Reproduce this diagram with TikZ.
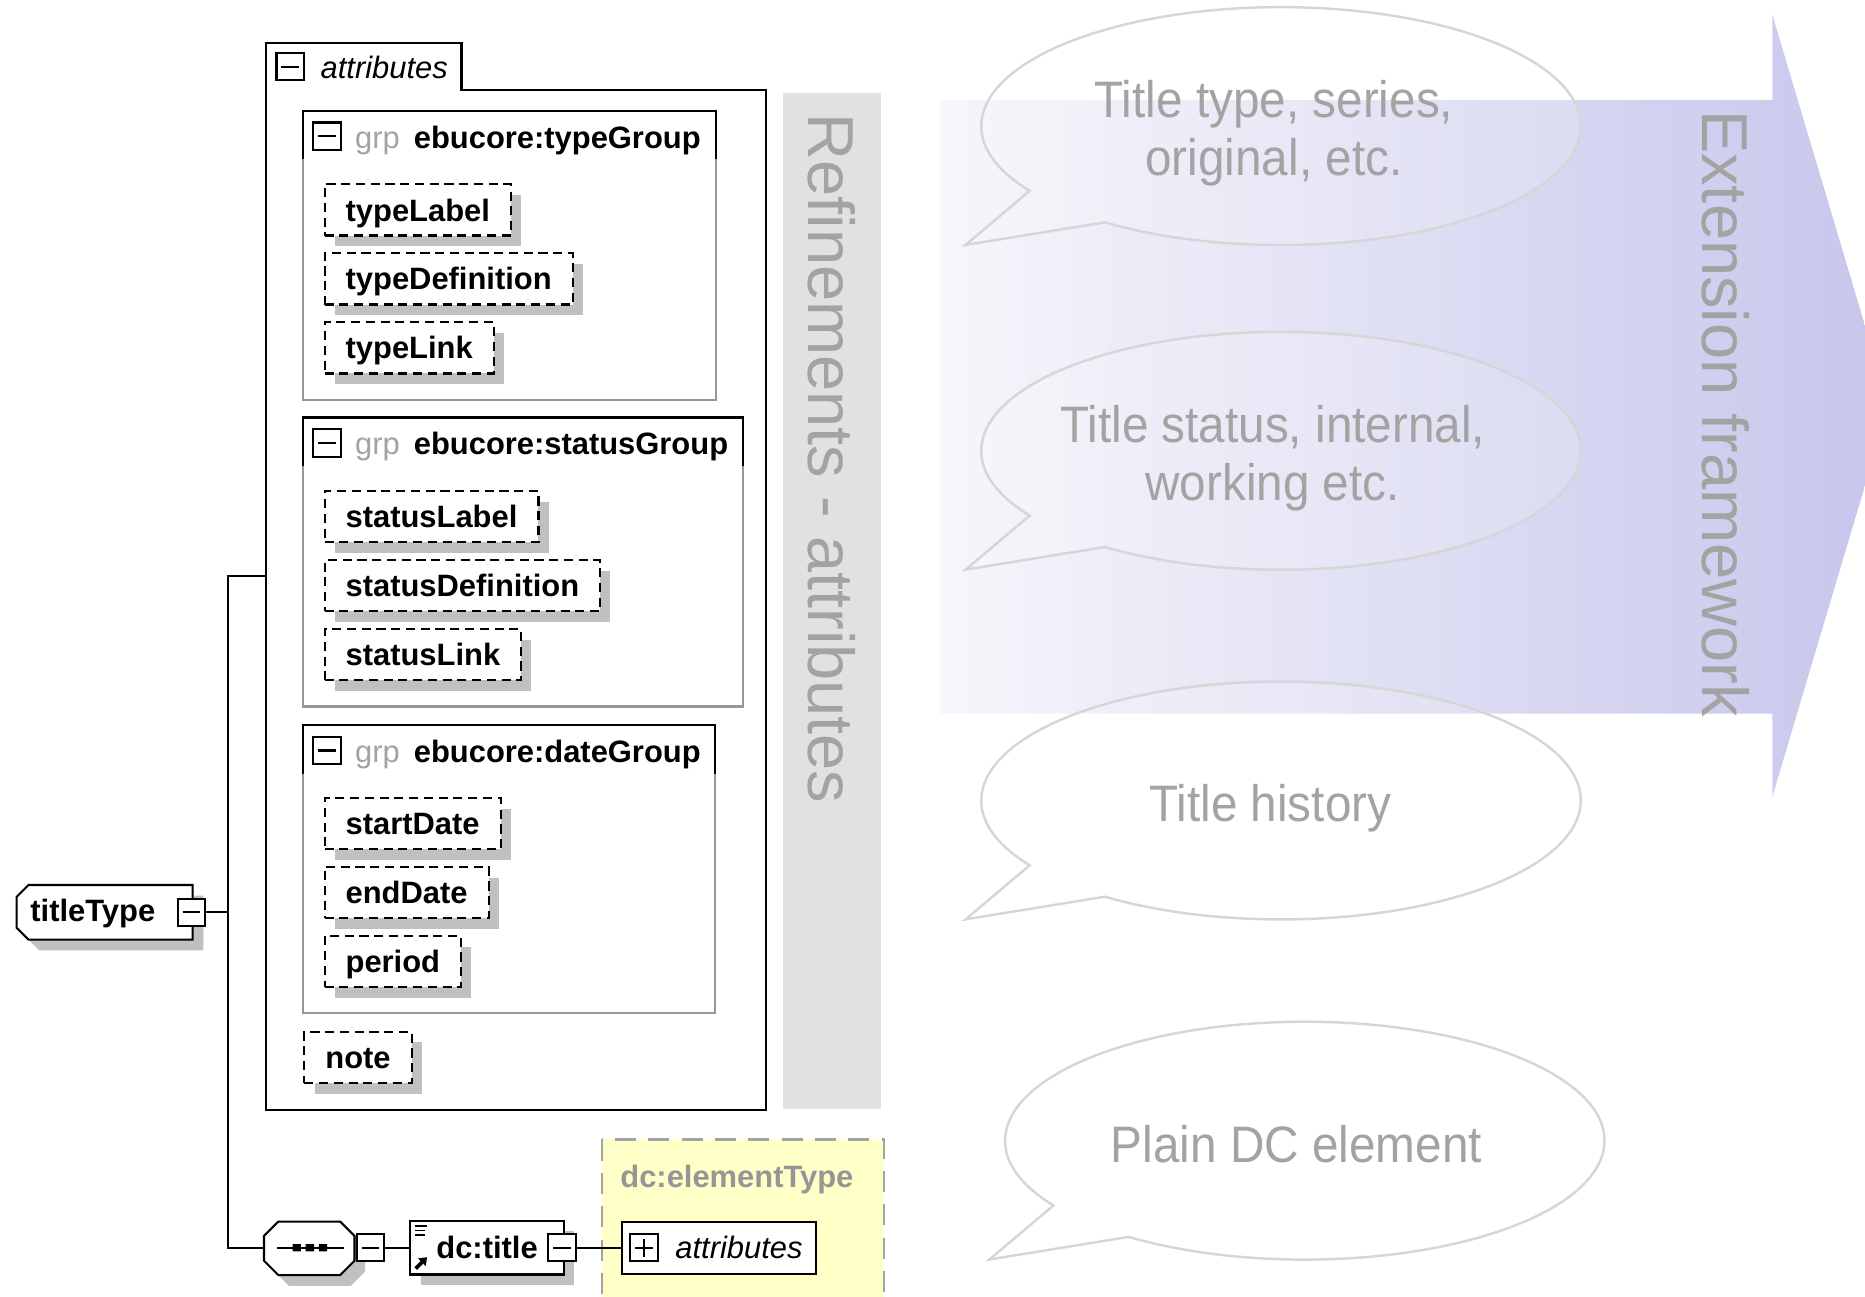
\documentclass[tikz,border=0pt]{standalone}
\usepackage{fontspec}
\setmainfont{Liberation Sans}
\newfontfamily\bubblefont[FakeStretch=0.93]{Liberation Sans}
\usetikzlibrary{shadows}

\newlength{\pxl}
\setlength{\pxl}{0.0119cm}
\newcommand{\dfont}{\fontsize{8.8}{10.5}\selectfont}
\newcommand{\bandfont}{\fontsize{18.5}{22}\selectfont}
\newcommand{\bubfont}{\bubblefont\fontsize{14.6}{16.6}\selectfont}

\definecolor{shgray}{RGB}{192,192,192}
\definecolor{grpgray}{RGB}{150,150,150}
\definecolor{lblgray}{RGB}{163,163,163}
\definecolor{bandgray}{RGB}{225,225,225}
\definecolor{bubgray}{RGB}{214,214,214}
\definecolor{arrowleft}{RGB}{246,246,251}
\definecolor{arrowright}{RGB}{198,198,236}
\definecolor{elemyellow}{RGB}{255,255,200}

\tikzset{
  dshadow/.style={drop shadow={shadow xshift=2.9pt, shadow yshift=-3pt, fill=shgray, opacity=1}},
  elem/.style={draw, dash pattern=on 2.6pt off 1.6pt, line width=0.6pt, fill=white,
    anchor=west, minimum height=43\pxl, inner xsep=6pt, text height=7pt, text depth=0.7pt,
    font=\dfont\bfseries, dshadow},
  pmbox/.style={draw, line width=0.6pt, fill=white, minimum size=23\pxl, inner sep=0pt},
  minusbox/.style={pmbox, path picture={
    \draw[line width=0.6pt] ([xshift=4\pxl]path picture bounding box.west) -- ([xshift=-4\pxl]path picture bounding box.east);}},
  plusbox/.style={pmbox, path picture={
    \draw[line width=0.6pt] ([xshift=4\pxl]path picture bounding box.west) -- ([xshift=-4\pxl]path picture bounding box.east)
      ([yshift=4\pxl]path picture bounding box.south) -- ([yshift=-4\pxl]path picture bounding box.north);}},
  grphead/.style={anchor=base west, inner sep=0pt, font=\dfont\bfseries},
  link/.style={line width=0.6pt},
  grpbox/.style={draw=grpgray, line width=0.6pt},
  bubble/.style={draw=bubgray, line width=0.7pt, fill=white, fill opacity=0.15},
  bubtext/.style={text=lblgray, font=\bubfont, align=center},
  bandtext/.style={rotate=-90, anchor=base west, inner sep=0pt, text=lblgray, font=\bandfont}
}

\begin{document}
\begin{tikzpicture}[x=\pxl, y=-\pxl]
\useasboundingbox (0,0) rectangle (1568,1090);
\clip (0,0) rectangle (1568,1090);

\shade[left color=arrowleft, right color=arrowright]
  (790,84) -- (1490,84) -- (1490,12) -- (1588,341) -- (1490,670) -- (1490,600) -- (790,600) -- cycle;
\node[bandtext] (ext) at (1431,92) {Extension framework};

\coordinate (b1) at (1077,106);
\coordinate (b2) at (1077,379);
\coordinate (b3) at (1077,673);
\coordinate (b4) at (1097,959);
\draw[bubble] (b1) ++(147:252 and 100) arc[start angle=147, end angle=486, x radius=252, y radius=100] -- ++(-117,19) -- cycle;
\draw[bubble] (b2) ++(147:252 and 100) arc[start angle=147, end angle=486, x radius=252, y radius=100] -- ++(-117,19) -- cycle;
\draw[bubble] (b3) ++(147:252 and 100) arc[start angle=147, end angle=486, x radius=252, y radius=100] -- ++(-117,19) -- cycle;
\draw[bubble] (b4) ++(147:252 and 100) arc[start angle=147, end angle=486, x radius=252, y radius=100] -- ++(-117,19) -- cycle;
\node[bubtext] (t1) at (1071,112) {Title type, series,\\original, etc.};
\node[bubtext] (t2) at (1070,385) {Title status, internal,\\working etc.};
\node[bubtext, anchor=base] (t3) at (1068,691) {Title history};
\node[bubtext, anchor=base] (t4) at (1090,977) {Plain DC element};

\fill[bandgray] (658,78) rectangle (741,932);
\node[bandtext] (refl) at (680,95) {Refinements - attributes};

\draw[link] (224,933) -- (224,36) -- (388,36) -- (388,76) -- (644,76) -- (644,933) -- cycle;
\node[minusbox] (apm) at (244,56) {};
\node[anchor=base west, inner sep=0pt, font=\dfont\itshape] (alab) at (269,66) {attributes};

\draw[grpbox] (255,93) rectangle (602,336);
\draw[link] (255,134) |- (602,93) -- (602,134);
\node[minusbox] (tgpm) at (275,114.5) {};
\node[grphead] (tg) at (298,124.5) {\textcolor{lblgray}{\mdseries grp}\hspace{4pt}ebucore:typeGroup};
\node[elem] (typeLabel) at (272,176.5) {typeLabel};
\node[elem] (typeDefinition) at (272,234.5) {typeDefinition};
\node[elem] (typeLink) at (272,292.5) {typeLink};

\draw[grpbox] (255,351) rectangle (625,594);
\draw[link] (255,392) |- (625,351) -- (625,392);
\node[minusbox] (sgpm) at (275,372.5) {};
\node[grphead] (sg) at (298,382.5) {\textcolor{lblgray}{\mdseries grp}\hspace{4pt}ebucore:statusGroup};
\node[elem] (statusLabel) at (272,434.5) {statusLabel};
\node[elem] (statusDefinition) at (272,492.5) {statusDefinition};
\node[elem] (statusLink) at (272,550.5) {statusLink};

\draw[grpbox] (255,609.5) rectangle (601,852);
\draw[link] (255,651) |- (601,609.5) -- (601,651);
\node[minusbox] (dgpm) at (275,631) {};
\node[grphead] (dg) at (298,641) {\textcolor{lblgray}{\mdseries grp}\hspace{4pt}ebucore:dateGroup};
\node[elem] (startDate) at (272,692.5) {startDate};
\node[elem] (endDate) at (272,750.5) {endDate};
\node[elem] (period) at (272,808.5) {period};

\node[elem] (note) at (255,889) {note};

\fill[shgray, shift={(9,9)}] (24,744) -- (162,744) -- (162,790) -- (24,790) -- (14,780) -- (14,754) -- cycle;
\draw[link, fill=white] (24,744) -- (162,744) -- (162,790) -- (24,790) -- (14,780) -- (14,754) -- cycle;
\node[anchor=base west, inner sep=0pt, font=\dfont\bfseries] (tt) at (25,774.5) {titleType};
\node[minusbox] (ttpm) at (161,767) {};

\draw[lblgray, fill=elemyellow, line width=0.7pt, dash pattern=on 6pt off 3.5pt] (506,958) rectangle (743,1100);
\node[anchor=base west, inner sep=0pt, text=grpgray, font=\dfont\bfseries] (etype) at (521,998) {dc:elementType};

\fill[shgray, shift={(9,9)}] (234,1027) -- (286,1027) -- (298,1039) -- (298,1060) -- (286,1072) -- (234,1072) -- (222,1060) -- (222,1039) -- cycle;
\draw[link, fill=white] (234,1027) -- (286,1027) -- (298,1039) -- (298,1060) -- (286,1072) -- (234,1072) -- (222,1060) -- (222,1039) -- cycle;
\draw[link] (233,1049) -- (289,1049);
\fill (246,1046) rectangle (253,1052) (257,1046) rectangle (264,1052) (268,1046) rectangle (275,1052);
\node[minusbox] (seqpm) at (311.5,1049) {};

\node[draw, line width=0.6pt, fill=white, minimum width=129\pxl, minimum height=45\pxl, text height=7pt, text depth=0.7pt, font=\dfont\bfseries, dshadow] (dct) at (409.5,1049) {dc:title};
\draw[line width=0.5pt] (349,1031) -- (359,1031) (349,1034.5) -- (357,1034.5) (349,1038) -- (357,1038);
\draw[line width=1.1pt] (349.5,1066.5) -- (355,1061);
\fill (359,1057) -- (351.5,1058) -- (358,1064.5) -- cycle;
\node[minusbox] (dctpm) at (472.5,1049) {};

\node[draw, line width=0.6pt, fill=white, anchor=west, minimum height=44\pxl, inner xsep=11\pxl, text height=7pt, text depth=0.7pt, font=\dfont\itshape] (ebattr) at (522,1049) {\hspace{34\pxl}attributes};
\node[plusbox] (ebpm) at (541.5,1049) {};

\coordinate (fork) at (192,767);
\coordinate (attrin) at (224,484.5);
\coordinate (seqin) at (222,1049);
\draw[link] (ttpm.east) -- (fork);
\draw[link] (attrin) -| (fork) |- (seqin);
\draw[link] (seqpm.east) -- (dct.west);
\draw[link] (dctpm.east) -- (ebattr.west);
\end{tikzpicture}
\end{document}
